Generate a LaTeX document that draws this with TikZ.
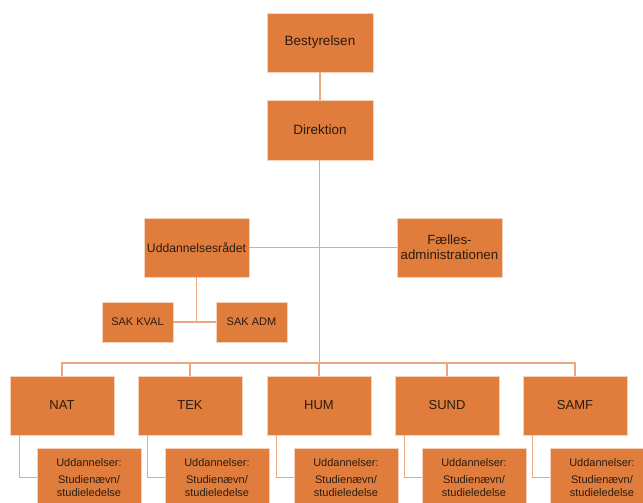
\documentclass[tikz,border=0pt]{standalone}
\usepackage{fontspec}
\setmainfont{Liberation Sans}
\definecolor{boxfill}{HTML}{E07D3C}
\definecolor{boxedge}{HTML}{F6D2B8}
\definecolor{linecol}{HTML}{E9A882}
\definecolor{txtcol}{HTML}{2A1C10}
\begin{document}
\begin{tikzpicture}[x=1pt,y=-1pt,
  orgbox/.style={draw=boxedge,line width=0.8pt,fill=boxfill,text=txtcol,inner sep=1pt,align=center},
  bigbox/.style={orgbox,minimum width=105pt,minimum height=59pt},
  smallbox/.style={orgbox,minimum width=71pt,minimum height=40pt,font=\fontsize{11}{13}\selectfont},
  facbox/.style={orgbox,minimum width=104pt,minimum height=59pt,font=\fontsize{13}{15}\selectfont},
  subbox/.style={orgbox,minimum width=104pt,minimum height=59pt,font=\fontsize{11}{13}\selectfont},
  conn/.style={draw=linecol,line width=1.3pt}]
\useasboundingbox (0,0) rectangle (643,503);
\clip (0,0) rectangle (643,503);
\fill[white] (0,0) rectangle (643,503);

\node[bigbox,minimum width=106pt,font=\fontsize{13.5}{15}\selectfont] (best) at (320,42.5) {Bestyrelsen};
\node[bigbox,minimum width=106pt,minimum height=60pt,font=\fontsize{13.5}{15}\selectfont] (dir) at (320,130) {Direktion};
\node[bigbox,font=\fontsize{12.2}{15}\selectfont] (udd) at (196.5,247.5) {Uddannelsesrådet};
\node[bigbox,font=\fontsize{13.3}{15}\selectfont] (fael) at (449.5,247.5) {Fælles-\\administrationen};
\node[smallbox] (sakk) at (137.5,322) {SAK KVAL};
\node[smallbox] (saka) at (251.5,322) {SAK ADM};

\node[facbox] (nat) at (62,405.5) {NAT};
\node[facbox] (tek) at (190,405.5) {TEK};
\node[facbox] (hum) at (319,405.5) {HUM};
\node[facbox] (sund) at (447,405.5) {SUND};
\node[facbox] (samf) at (575,405.5) {SAMF};

\foreach \f/\cx in {nat/62,tek/190,hum/319,sund/447,samf/575}{
  \node[subbox] (\f sub) at (\cx+27,477.5) {Uddannelser:\\[4pt]Studienævn/\\studieledelse};
}

\coordinate (bus) at (319.5,363);
\coordinate (cross) at (319.5,247.5);

% connectors
\draw[conn] (best.south) -- (dir.north);
\draw[conn] (dir.south -| bus) -- (bus);
\draw[conn] (udd.east) -- (fael.west);
\draw[conn] (udd.south) -- (udd.south |- sakk.east);
\draw[conn] (sakk.east) -- (saka.west);
\draw[conn] (nat.north) -- (nat.north |- bus) -- (samf.north |- bus) -- (samf.north);
\foreach \f in {tek,hum,sund}{
  \draw[conn] (\f.north) -- (\f.north |- bus);
}
\foreach \f in {nat,tek,hum,sund,samf}{
  \coordinate (\f foot) at ([xshift=10pt]\f.south west);
  \draw[conn] (\f foot) |- (\f sub.west);
}
\end{tikzpicture}
\end{document}
